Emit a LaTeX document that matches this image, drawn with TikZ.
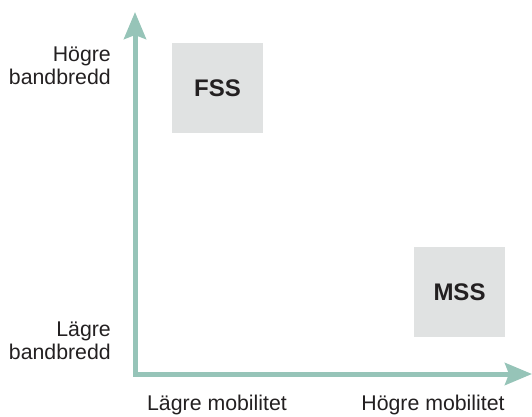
\documentclass[tikz,border=0pt]{standalone}
\usepackage{fontspec}
\setmainfont{Liberation Sans}
\usetikzlibrary{arrows.meta,positioning}
\definecolor{axisteal}{RGB}{150,196,184}
\definecolor{quadbg}{RGB}{224,226,226}
\definecolor{labeltext}{RGB}{35,32,33}
\tikzset{
    axisarrow/.style={{Stealth[length=27pt, width=22pt, inset=4pt]}-{Stealth[length=27pt, width=22pt, inset=4pt]}, line width=5pt, draw=axisteal, line join=miter},
    quadbox/.style={fill=quadbg, minimum width=91pt, minimum height=90pt, inner sep=0pt, text=labeltext, font=\fontsize{24}{26}\selectfont\bfseries},
    axislabel/.style={align=right, inner sep=0pt, text=labeltext, font=\fontsize{21.3}{23.5}\selectfont},
    ticklabel/.style={inner sep=0pt, text=labeltext, font=\fontsize{21.3}{23.5}\selectfont}
}

\begin{document}
\begin{tikzpicture}[x=1pt, y=-1pt]
    \useasboundingbox (0,0) rectangle (532,417);

    % axes
    \coordinate (origin) at (135,374);
    \coordinate (ytop) at (135,12);
    \coordinate (xend) at (532,374);
    \draw[axisarrow] (ytop) -- (origin) -- (xend);

    % quadrants
    \node[quadbox] (fss) at (217.5,88) {FSS};
    \node[quadbox] (mss) at (459.5,292) {MSS};

    % axis labels
    \node[axislabel, anchor=east] (bwhigh) at (111,66) {Högre\\bandbredd};
    \node[axislabel, anchor=east] (bwlow) at (111,341) {Lägre\\bandbredd};
    \node[ticklabel] (mobLow) at (217,405) {Lägre mobilitet};
    \node[ticklabel] (mobHigh) at (433,405) {Högre mobilitet};
\end{tikzpicture}
\end{document}
